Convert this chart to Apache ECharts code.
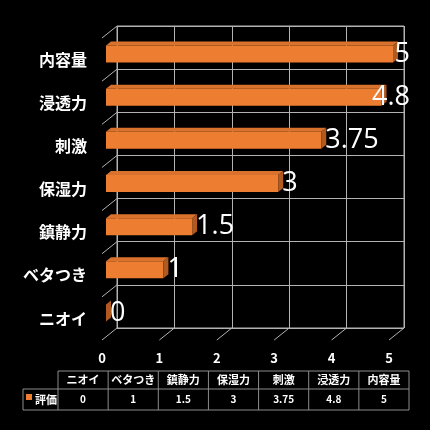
<!DOCTYPE html>
<html>
<head>
    <meta charset="utf-8">
    <title>評価</title>
    <script src="https://cdn.jsdelivr.net/npm/echarts@6/dist/echarts.min.js"></script>
    <style>
        html, body { margin: 0; padding: 0; background: #000; }
    </style>
</head>
<body>
<div id="main" style="width: 430px;height:430px;"></div>
<script type="text/javascript">
    // データ
    var categories = ['ニオイ', 'ベタつき', '鎮静力', '保湿力', '刺激', '浸透力', '内容量'];
    var values = [0, 1, 1.5, 3, 3.75, 4.8, 5];
    var xTicks = [0, 1, 2, 3, 4, 5];
    var seriesName = '評価';

    var myChart = echarts.init(document.getElementById('main'));

    var JP = '"Noto Sans CJK JP", "Noto Sans", sans-serif';
    var gridColor = '#b3b3b3';
    var orange = '#ED7D31';
    // 奥行き（背面 -> 前面）
    var wallDX = -15, wallDY = 12;
    // 棒の位置（背面からのずれ）と立体部分
    var barDX = -11, barDY = 6.5, barH = 17, depX = 5, depY = -4;
    var labelFont = 'normal 27px "Open Sans", sans-serif';
    var labelRight = 410;

    var measureCtx = document.createElement('canvas').getContext('2d');
    function textWidth(str, font) {
        measureCtx.font = font;
        return measureCtx.measureText(str).width;
    }

    var barData = values.map(function (v, i) { return [v, i]; });

    // 棒（疑似3D）
    function renderBar(params, api) {
        var v = api.value(0), c = api.value(1);
        var p0 = api.coord([0, c]);
        var p1 = api.coord([v, c]);
        var x0 = p0[0] + barDX, x1 = p1[0] + barDX;
        var cy = p0[1] + barDY;
        var yt = cy - barH / 2, yb = cy + barH / 2;
        var txt = String(v);
        var tx = x1 + depX - 1;
        var w = textWidth(txt, labelFont);
        if (tx + w > labelRight) tx = labelRight - w;
        return {
            type: 'group',
            children: [
                {
                    type: 'polygon',
                    shape: {points: [[x0, yt], [x1, yt], [x1 + depX, yt + depY], [x0 + depX, yt + depY]]},
                    style: {fill: '#D9722C'}
                },
                {
                    type: 'rect',
                    shape: {x: x0, y: yt, width: x1 - x0, height: barH},
                    style: {fill: orange}
                },
                {
                    type: 'polygon',
                    shape: {points: [[x1, yt], [x1, yb], [x1 + depX, yb + depY], [x1 + depX, yt + depY]]},
                    style: {fill: '#B05A22'}
                },
                {
                    type: 'text',
                    style: {
                        text: txt, x: tx, y: cy, verticalAlign: 'middle', align: 'left',
                        font: labelFont, fill: '#fff'
                    },
                    z2: 10
                }
            ]
        };
    }

    // 床の斜線
    function renderFloor(params, api) {
        var p = api.coord([api.value(0), 0]);
        var bottom = p[1] + api.size([0, 1])[1] / 2;
        return {
            type: 'line',
            shape: {x1: p[0], y1: bottom, x2: p[0] + wallDX, y2: bottom + wallDY},
            style: {stroke: gridColor, lineWidth: 1}
        };
    }

    // 左壁の斜線
    function renderWall(params, api) {
        var p = api.coord([0, api.value(0)]);
        var top = p[1] - api.size([0, 1])[1] / 2;
        return {
            type: 'line',
            shape: {x1: p[0], y1: top, x2: p[0] + wallDX, y2: top + wallDY},
            style: {stroke: gridColor, lineWidth: 1}
        };
    }

    // データテーブル
    var tblLeft = 58, tblRight = 409, legLeft = 23;
    var rowTop = 371, rowMid = 389, rowBottom = 410;
    var colW = (tblRight - tblLeft) / categories.length;
    var lineStyle = {stroke: '#8c8c8c', lineWidth: 1};
    var table = [];
    table.push({type: 'line', shape: {x1: tblLeft, y1: rowTop, x2: tblRight, y2: rowTop}, style: lineStyle});
    table.push({type: 'line', shape: {x1: legLeft, y1: rowMid, x2: tblRight, y2: rowMid}, style: lineStyle});
    table.push({type: 'line', shape: {x1: legLeft, y1: rowBottom, x2: tblRight, y2: rowBottom}, style: lineStyle});
    table.push({type: 'line', shape: {x1: legLeft, y1: rowMid, x2: legLeft, y2: rowBottom}, style: lineStyle});
    for (var k = 0; k <= categories.length; k++) {
        var xx = tblLeft + k * colW;
        table.push({type: 'line', shape: {x1: xx, y1: rowTop, x2: xx, y2: rowBottom}, style: lineStyle});
    }
    categories.forEach(function (name, i) {
        var cx = tblLeft + (i + 0.5) * colW;
        table.push({
            type: 'text',
            style: {text: name, x: cx, y: (rowTop + rowMid) / 2, align: 'center', verticalAlign: 'middle',
                font: 'bold 11px ' + JP, fill: '#fff'}
        });
        table.push({
            type: 'text',
            style: {text: String(values[i]), x: cx, y: (rowMid + rowBottom) / 2 , align: 'center', verticalAlign: 'middle',
                font: 'bold 10px ' + JP, fill: '#fff'}
        });
    });
    table.push({type: 'rect', shape: {x: 26, y: 394, width: 6, height: 6}, style: {fill: orange}});
    table.push({
        type: 'text',
        style: {text: seriesName, x: 35, y: (rowMid + rowBottom) / 2, align: 'left', verticalAlign: 'middle',
            font: 'bold 11px ' + JP, fill: '#fff'}
    });

    var option = {
        backgroundColor: '#000',
        animation: false,
        grid: [
            {left: 117, top: 26, width: 287, height: 302, show: true, borderColor: gridColor, borderWidth: 1},
            {left: 102, top: 38, width: 287, height: 302}
        ],
        xAxis: [
            {
                gridIndex: 0, type: 'value', min: 0, max: 5, interval: 1,
                axisLine: {show: false}, axisTick: {show: false}, axisLabel: {show: false},
                splitLine: {lineStyle: {color: gridColor, width: 1}}
            },
            {
                gridIndex: 1, type: 'value', min: 0, max: 5, interval: 1,
                axisLine: {show: false}, axisTick: {show: false}, splitLine: {show: false},
                axisLabel: {color: '#fff', fontSize: 13, fontWeight: 'bold', fontFamily: JP, margin: 12}
            }
        ],
        yAxis: [
            {
                gridIndex: 0, type: 'category', data: categories,
                axisLine: {show: false}, axisTick: {show: false}, axisLabel: {show: false},
                splitLine: {show: true, lineStyle: {color: gridColor, width: 1}}
            },
            {
                gridIndex: 1, type: 'category', data: categories,
                axisLine: {show: false}, axisTick: {show: false}, splitLine: {show: false},
                axisLabel: {color: '#fff', fontSize: 16, fontWeight: 'bold', fontFamily: JP, margin: 15}
            }
        ],
        series: [
            {
                type: 'custom', xAxisIndex: 0, yAxisIndex: 0, z: 1,
                renderItem: renderFloor, data: xTicks.map(function (t) { return [t]; })
            },
            {
                type: 'custom', xAxisIndex: 0, yAxisIndex: 0, z: 1,
                renderItem: renderWall, data: categories.map(function (c, i) { return [i]; })
            },
            {
                name: seriesName, type: 'custom', xAxisIndex: 0, yAxisIndex: 0, z: 5,
                renderItem: renderBar, encode: {x: 0, y: 1}, data: barData
            }
        ],
        graphic: table
    };
    myChart.setOption(option);
</script>
</body>
</html>
